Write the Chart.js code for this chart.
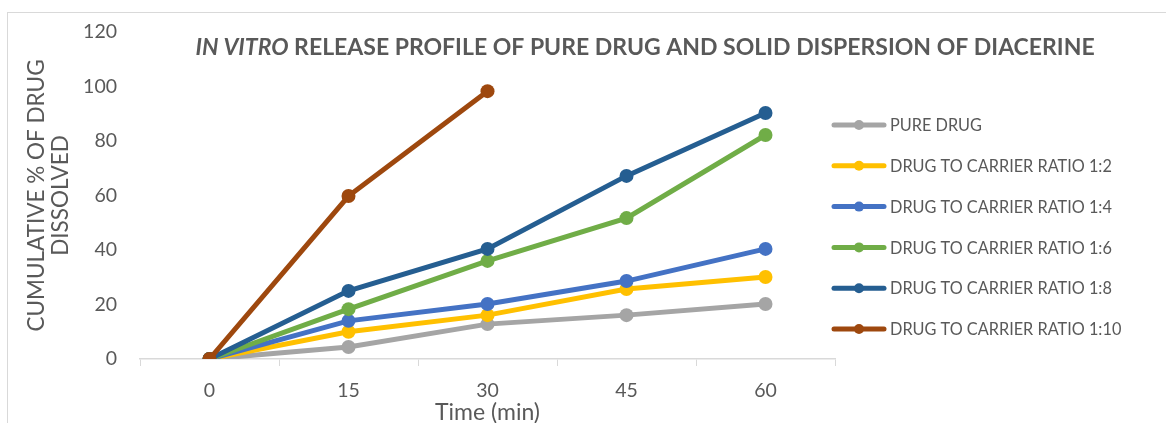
<!DOCTYPE html>
<html>
<head>
<meta charset="utf-8">
<script src="https://cdn.jsdelivr.net/npm/chart.js@4/dist/chart.umd.min.js"></script>
<style>
  html, body { margin: 0; padding: 0; background: #fff; }
  #wrap { width: 1166px; height: 423px; position: relative; }
</style>
</head>
<body>
<div id="wrap"><canvas id="releaseChart" width="1166" height="423"></canvas></div>
<script>
// time points (min)
const times = ['0', '15', '30', '45', '60'];
const yTicks = [0, 20, 40, 60, 80, 100, 120];

const seriesNames = [
  'PURE DRUG',
  'DRUG TO CARRIER RATIO 1:2',
  'DRUG TO CARRIER RATIO 1:4',
  'DRUG TO CARRIER RATIO 1:6',
  'DRUG TO CARRIER RATIO 1:8',
  'DRUG TO CARRIER RATIO 1:10'
];
const pureDrug = [0, 4.4, 12.8, 16.1, 20.2];
const ratio12  = [0, 10.0, 16.1, 25.7, 30.1];
const ratio14  = [0, 14.0, 20.2, 28.6, 40.4];
const ratio16  = [0, 18.3, 36.0, 51.7, 82.2];
const ratio18  = [0, 25.0, 40.4, 67.2, 90.3];
const ratio110 = [0, 59.8, 98.3, null, null];

const colors = ['#A5A5A5', '#FFC000', '#4472C4', '#70AD47', '#255E91', '#9E480E'];
const allSeries = [pureDrug, ratio12, ratio14, ratio16, ratio18, ratio110];

const FONT = 'Lato, "Open Sans", sans-serif';
const TXT = '#595959';

// chart title with italic "IN VITRO", plus outer frame
const titlePlugin = {
  id: 'mixedTitle',
  afterDraw(chart){
    const ctx = chart.ctx;
    ctx.save();
    ctx.strokeStyle = '#d9d9d9';
    ctx.lineWidth = 1;
    ctx.strokeRect(7.5, 12.5, 1170, 420);
    const a = 'IN VITRO', b = ' RELEASE PROFILE OF PURE DRUG AND SOLID DISPERSION OF DIACERINE';
    const fa = 'italic bold 23px ' + FONT, fb = 'bold 23px ' + FONT;
    ctx.font = fa; const wa = ctx.measureText(a).width;
    ctx.font = fb; const wb = ctx.measureText(b).width;
    let x = 645 - (wa + wb) / 2;
    const y = 48;
    ctx.fillStyle = TXT;
    ctx.textBaseline = 'middle';
    ctx.textAlign = 'left';
    ctx.font = fa; ctx.fillText(a, x, y);
    ctx.font = fb; ctx.fillText(b, x + wa, y);
    ctx.restore();
  }
};

// legend: line with marker on the right
const sideLegend = {
  id: 'sideLegend',
  afterDraw(chart){
    const ctx = chart.ctx;
    ctx.save();
    chart.data.datasets.forEach((ds, i) => {
      const y = 125 + i * 40.8;
      ctx.strokeStyle = ds.borderColor;
      ctx.lineWidth = 5;
      ctx.lineCap = 'round';
      ctx.beginPath(); ctx.moveTo(834, y); ctx.lineTo(884, y); ctx.stroke();
      ctx.fillStyle = ds.borderColor;
      ctx.beginPath(); ctx.arc(859, y, 5, 0, Math.PI * 2); ctx.fill();
      ctx.fillStyle = TXT;
      ctx.font = '16.3px ' + FONT;
      ctx.textBaseline = 'middle';
      ctx.fillText(ds.label, 890, y + 1);
    });
    ctx.restore();
  }
};

new Chart(document.getElementById('releaseChart'), {
  type: 'line',
  data: {
    labels: times,
    datasets: allSeries.map((d, i) => ({
      label: seriesNames[i],
      data: d,
      borderColor: colors[i],
      backgroundColor: colors[i],
      borderWidth: 5,
      pointRadius: 7,
      pointHoverRadius: 7,
      pointBorderWidth: 0,
      tension: 0,
      order: allSeries.length - i
    }))
  },
  options: {
    responsive: false,
    animation: false,
    layout: { padding: { left: 0, right: 331, top: 32, bottom: 0 } },
    plugins: { legend: { display: false }, title: { display: false }, tooltip: { enabled: false } },
    scales: {
      x: {
        type: 'category',
        offset: true,
        afterFit(s){ s.height = 64; },
        grid: { display: true, drawOnChartArea: false, drawTicks: true, tickLength: 7, color: '#d9d9d9', offset: true },
        border: { display: true, color: '#d9d9d9', width: 1.5 },
        ticks: { color: TXT, font: { family: FONT, size: 19.5 }, padding: 13 },
        title: { display: true, text: 'Time (min)', color: TXT, font: { family: FONT, size: 23 }, padding: { top: 0, bottom: -3 } }
      },
      y: {
        min: 0, max: 120,
        afterFit(s){ s.width = 140; },
        afterBuildTicks(s){ s.ticks = yTicks.map(v => ({ value: v })); },
        grid: { display: false },
        border: { display: false },
        ticks: { color: TXT, font: { family: FONT, size: 19.5 }, padding: 15 },
        title: { display: true, text: ['CUMULATIVE % OF DRUG', 'DISSOLVED'], color: TXT, font: { family: FONT, size: 22.5, lineHeight: 1.07 }, padding: { top: 25, bottom: 0 } }
      }
    }
  },
  plugins: [titlePlugin, sideLegend]
});
</script>
</body>
</html>
